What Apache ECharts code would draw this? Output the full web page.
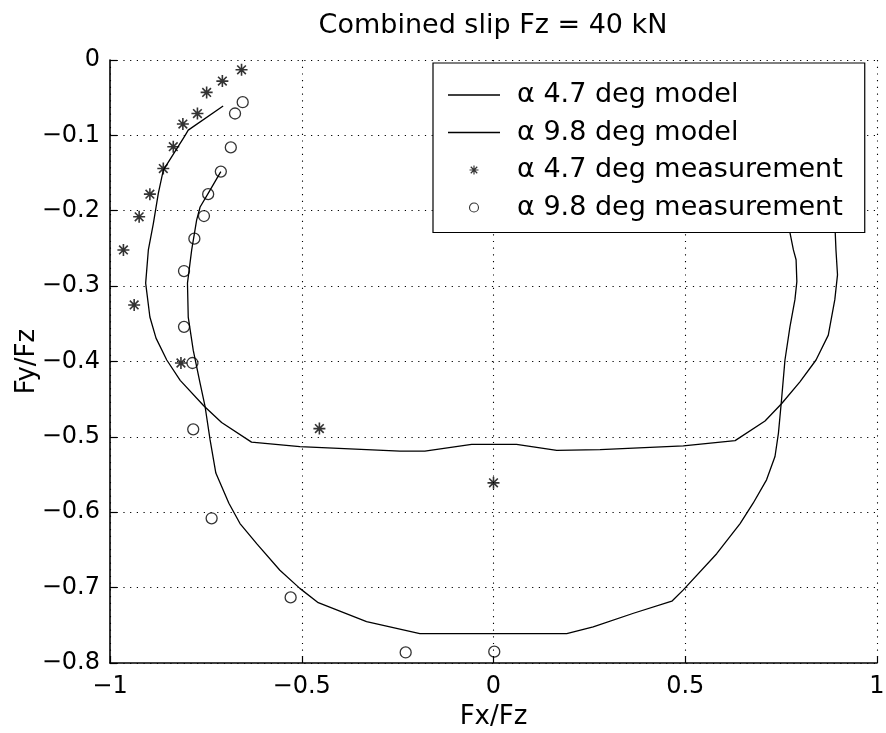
<!DOCTYPE html>
<html>
<head>
<meta charset="utf-8">
<script src="https://cdn.jsdelivr.net/npm/echarts@6/dist/echarts.min.js"></script>
<style>html,body{margin:0;padding:0;background:#fff}#c{width:886px;height:733px}</style>
</head>
<body>
<div id="c"></div>
<script>
const titleText = 'Combined slip Fz = 40 kN';
const xName = 'Fx/Fz';
const yName = 'Fy/Fz';
const seriesNames = ['α 4.7 deg model', 'α 9.8 deg model', 'α 4.7 deg measurement', 'α 9.8 deg measurement'];
const xTicks = [-1, -0.5, 0, 0.5, 1];
const yTicks = [-0.8, -0.7, -0.6, -0.5, -0.4, -0.3, -0.2, -0.1, 0];

const model47 = [
  [0.705, -0.061], [0.82, -0.1], [0.87, -0.17], [0.891, -0.228], [0.893, -0.252], [0.897, -0.285], [0.890, -0.318],
  [0.873, -0.365], [0.841, -0.398], [0.799, -0.427], [0.751, -0.456], [0.708, -0.479], [0.630, -0.505],
  [0.495, -0.512], [0.278, -0.517], [0.165, -0.518], [0.060, -0.510], [-0.057, -0.510], [-0.179, -0.519],
  [-0.244, -0.519], [-0.505, -0.513], [-0.631, -0.507], [-0.709, -0.481], [-0.755, -0.459], [-0.817, -0.425],
  [-0.852, -0.398], [-0.880, -0.369], [-0.896, -0.341], [-0.907, -0.296], [-0.900, -0.252], [-0.887, -0.217],
  [-0.874, -0.177], [-0.861, -0.146], [-0.804, -0.100], [-0.796, -0.093], [-0.705, -0.061]
];
const model98 = [
  [-0.711, -0.148], [-0.744, -0.177], [-0.765, -0.195], [-0.774, -0.212], [-0.787, -0.252], [-0.798, -0.296],
  [-0.796, -0.341], [-0.783, -0.385], [-0.765, -0.429], [-0.752, -0.460], [-0.739, -0.504], [-0.724, -0.548],
  [-0.690, -0.588], [-0.661, -0.615], [-0.617, -0.642], [-0.557, -0.677], [-0.505, -0.701], [-0.457, -0.720],
  [-0.331, -0.745], [-0.192, -0.761], [0.191, -0.761], [0.260, -0.752], [0.365, -0.734], [0.465, -0.718],
  [0.495, -0.703], [0.582, -0.655], [0.643, -0.615], [0.677, -0.588], [0.712, -0.557], [0.734, -0.526],
  [0.743, -0.495], [0.751, -0.451], [0.760, -0.398], [0.773, -0.354], [0.786, -0.318], [0.791, -0.294],
  [0.789, -0.265], [0.782, -0.252], [0.773, -0.229], [0.75, -0.19], [0.711, -0.148]
];
const meas47 = [
  [-0.657, -0.013], [-0.707, -0.028], [-0.748, -0.043], [-0.772, -0.071], [-0.810, -0.085], [-0.835, -0.115],
  [-0.861, -0.144], [-0.896, -0.178], [-0.924, -0.208], [-0.965, -0.252], [-0.937, -0.325], [-0.815, -0.402],
  [-0.454, -0.489], [0.000, -0.561]
];
const meas98 = [
  [-0.654, -0.056], [-0.674, -0.071], [-0.685, -0.116], [-0.711, -0.148], [-0.744, -0.178], [-0.755, -0.207],
  [-0.780, -0.237], [-0.807, -0.280], [-0.807, -0.354], [-0.785, -0.402], [-0.783, -0.490], [-0.735, -0.608],
  [-0.529, -0.713], [-0.229, -0.786], [0.002, -0.785]
];

const FONT = 'DejaVu Sans';
const star = 'path://M0,-10L0,10M-10,0L10,0M-7.2,-7.2L7.2,7.2M-7.2,7.2L7.2,-7.2';
const lineIcon = 'path://M0,0L52,0L52,1.3L0,1.3Z';
function fmt(v) {
  const r = Math.round(v * 10) / 10;
  if (r === 0) return '0';
  return (r < 0 ? '\u2212' : '') + String(Math.abs(r));
}
const grid = {color: '#000', width: 1.1, type: [1.2, 5.5]};

const chart = echarts.init(document.getElementById('c'));
chart.setOption({
  animation: false,
  backgroundColor: '#fff',
  title: {
    text: titleText, left: 488, top: 7, textAlign: 'center',
    textStyle: {fontFamily: FONT, fontSize: 27, fontWeight: 'normal', color: '#000'}
  },
  grid: {left: 110, right: 9, top: 60, bottom: 70, containLabel: false, outerBoundsMode: 'none'},
  xAxis: {
    type: 'value', min: xTicks[0], max: xTicks[xTicks.length - 1], interval: 0.5,
    name: xName, nameLocation: 'middle', nameGap: 40,
    nameTextStyle: {fontFamily: FONT, fontSize: 26, color: '#000'},
    axisLine: {onZero: false, lineStyle: {color: '#000', width: 1.6}},
    axisTick: {inside: true, length: 7, lineStyle: {color: '#000', width: 1.2}},
    axisLabel: {fontFamily: FONT, fontSize: 24, color: '#000', margin: 12, formatter: fmt},
    splitLine: {show: true, lineStyle: grid}
  },
  yAxis: {
    type: 'value', min: yTicks[0], max: yTicks[yTicks.length - 1], interval: 0.1,
    name: yName, nameLocation: 'middle', nameGap: 70, nameRotate: 90, nameMoveOverlap: false,
    nameTextStyle: {fontFamily: FONT, fontSize: 26, color: '#000'},
    axisLine: {onZero: false, lineStyle: {color: '#000', width: 1.6}},
    axisTick: {inside: true, length: 7, lineStyle: {color: '#000', width: 1.2}},
    axisLabel: {fontFamily: FONT, fontSize: 24, color: '#000', margin: 10, formatter: fmt},
    splitLine: {show: true, lineStyle: grid}
  },
  legend: {
    orient: 'vertical', left: 433, top: 63,
    backgroundColor: '#fff', borderColor: '#000', borderWidth: 1.2, borderRadius: 0,
    padding: [17, 22, 10, 15],
    itemWidth: 52, itemHeight: 9, itemGap: 7.5,
    textStyle: {fontFamily: FONT, fontSize: 27, color: '#000', lineHeight: 30, padding: [0, 0, 0, 12]},
    data: [
      {name: seriesNames[0], icon: lineIcon, itemStyle: {color: '#000', borderWidth: 0}},
      {name: seriesNames[1], icon: lineIcon, itemStyle: {color: '#000', borderWidth: 0}},
      {name: seriesNames[2], icon: star, itemStyle: {color: 'transparent', borderColor: '#000', borderWidth: 1.2}},
      {name: seriesNames[3], icon: 'circle', itemStyle: {color: '#fff', borderColor: '#000', borderWidth: 1.1}}
    ],
    selectedMode: false
  },
  series: [
    {name: seriesNames[0], type: 'line', data: model47, symbol: 'none', showSymbol: false,
      lineStyle: {color: '#000', width: 1.3}, itemStyle: {color: '#000'}, z: 2},
    {name: seriesNames[1], type: 'line', data: model98, symbol: 'none', showSymbol: false,
      lineStyle: {color: '#000', width: 1.3}, itemStyle: {color: '#000'}, z: 2},
    {name: seriesNames[2], type: 'scatter', data: meas47, symbol: star, symbolSize: 12,
      itemStyle: {color: 'transparent', borderColor: '#000', borderWidth: 1.6}, z: 3},
    {name: seriesNames[3], type: 'scatter', data: meas98, symbol: 'circle', symbolSize: 11,
      itemStyle: {color: 'rgba(255,255,255,0)', borderColor: '#000', borderWidth: 1.3}, z: 3}
  ]
});
</script>
</body>
</html>
